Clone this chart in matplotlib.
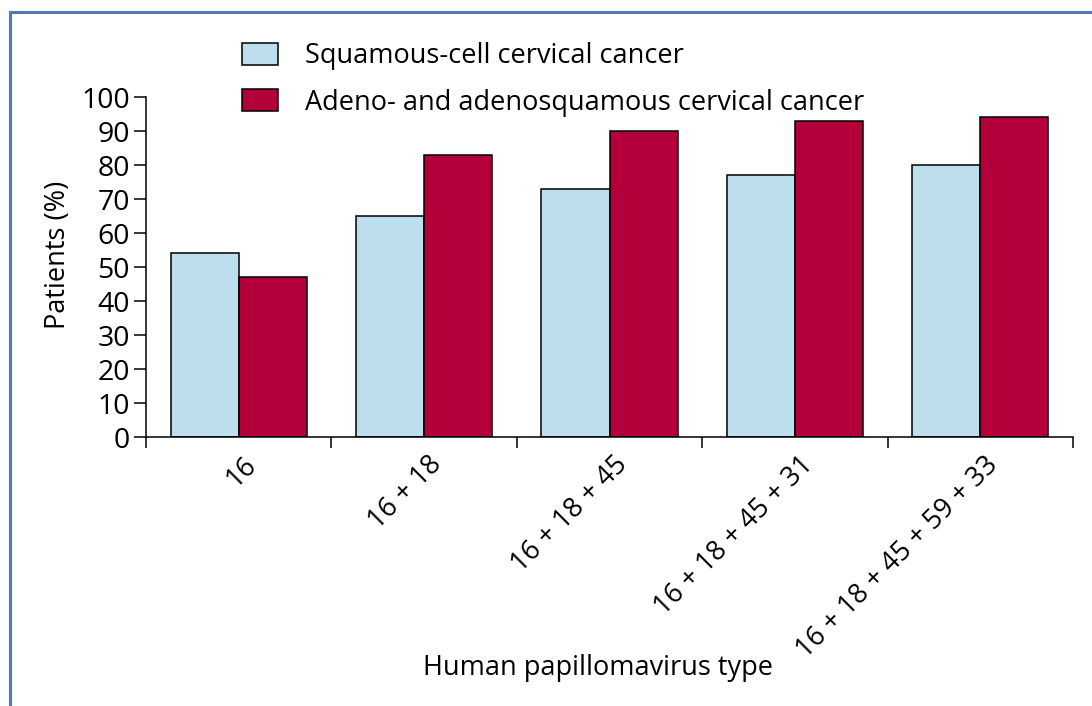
import numpy as np
import matplotlib.pyplot as plt
from matplotlib.lines import Line2D
from matplotlib.patches import Patch

plt.rcParams["font.family"] = ["Open Sans", "DejaVu Sans"]

hpv_types = ["16", "16 + 18", "16 + 18 + 45", "16 + 18 + 45 + 31",
             "16 + 18 + 45 + 59 + 33"]
squamous = [54, 65, 73, 77, 80]
adeno = [47, 83, 90, 93, 94]
series_names = ["Squamous-cell cervical cancer",
                "Adeno- and adenosquamous cervical cancer"]

c_sq = "#bddeec"
c_ad = "#b4003a"
fs = 19.5

fig = plt.figure(figsize=(10.92, 7.06), dpi=100)
ax = fig.add_axes([146 / 1092, 1 - 437 / 706, (1073 - 146) / 1092, (437 - 97) / 706])

x = np.arange(len(hpv_types))
w = 0.367
ax.bar(x - w / 2, squamous, w, color=c_sq, edgecolor="black", linewidth=1.1)
ax.bar(x + w / 2, adeno, w, color=c_ad, edgecolor="black", linewidth=1.1)

ax.set_xlim(-0.5, len(hpv_types) - 0.5)
ax.set_ylim(0, 100)
ax.set_yticks(range(0, 101, 10))
ax.tick_params(axis="y", direction="out", length=8.5, width=1.1, labelsize=20.5, pad=3)
ax.set_xticks(np.arange(len(hpv_types) + 1) - 0.5)
ax.set_xticklabels([])
ax.tick_params(axis="x", direction="out", length=8, width=1.1)
for s in ["top", "right"]:
    ax.spines[s].set_visible(False)
for s in ["left", "bottom"]:
    ax.spines[s].set_linewidth(1.1)

# rotated category labels
for i, lab in enumerate(hpv_types):
    ax.annotate(lab, xy=(i, 0), xycoords="data", xytext=(4, -14),
                textcoords="offset pixels", rotation=45, ha="right", va="top",
                rotation_mode="anchor", fontsize=fs)

fig.text(598 / 1092, 1 - 668 / 706, "Human papillomavirus type",
         ha="center", va="center", fontsize=fs)
fig.text(58 / 1092, 1 - 255 / 706, "Patients (%)", rotation=90,
         ha="center", va="center", fontsize=fs)

handles = [Patch(facecolor=c_sq, edgecolor="black", linewidth=1.1),
           Patch(facecolor=c_ad, edgecolor="black", linewidth=1.1)]
fig.legend(handles, series_names, loc="upper left",
           bbox_to_anchor=(218 / 1092, 1 - 18 / 706), frameon=False,
           fontsize=fs, handlelength=1.33, handleheight=0.89,
           handletextpad=1.0, labelspacing=0.67)

# blue frame
fig.add_artist(Line2D([10 / 1092, 10 / 1092], [0, 1 - 12 / 706],
                      color="#4f78bd", lw=2.2, transform=fig.transFigure))
fig.add_artist(Line2D([10 / 1092, 1], [1 - 12 / 706, 1 - 12 / 706],
                      color="#4f78bd", lw=2.2, transform=fig.transFigure))

fig.savefig("out.png", dpi=100)
